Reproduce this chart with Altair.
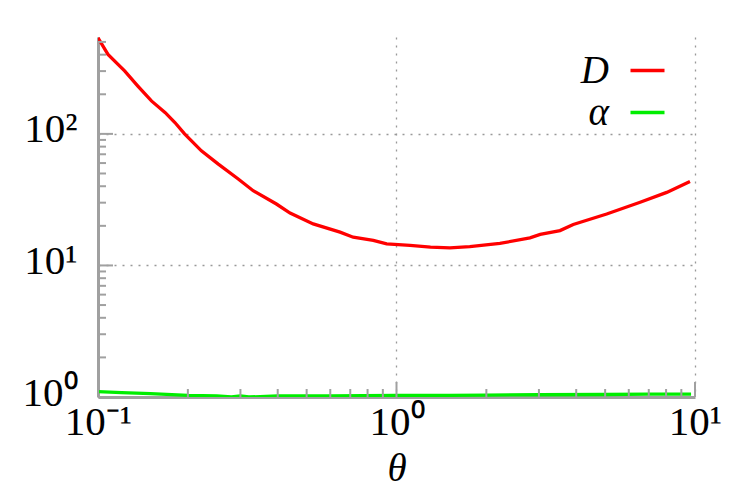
import altair as alt
import pandas as pd

# ---- data ----
theta_D = [0.100, 0.108, 0.123, 0.136, 0.151, 0.168, 0.181, 0.195, 0.222, 0.253,
           0.295, 0.331, 0.396, 0.440, 0.526, 0.647, 0.716, 0.836, 0.927, 1.11,
           1.30, 1.51, 1.76, 2.22, 2.80, 3.03, 3.53, 3.91, 5.06, 6.55, 8.04, 9.62]
D_vals = [537, 402, 300, 231, 178, 145, 122, 100, 74.3, 58.9,
          45.4, 37.0, 29.3, 25.0, 20.7, 17.9, 16.4, 15.5, 14.6, 14.2,
          13.8, 13.6, 13.9, 14.7, 16.2, 17.2, 18.4, 20.5, 24.6, 30.2, 35.9, 43.5]

theta_a = [0.100, 0.12, 0.15, 0.20, 0.25, 0.28, 0.30, 0.32, 0.40, 0.60,
           1.0, 1.5, 2.0, 3.0, 5.0, 7.0, 9.7]
a_vals = [1.10, 1.08, 1.06, 1.03, 1.02, 1.00, 1.02, 1.00, 1.02, 1.02,
          1.03, 1.03, 1.035, 1.04, 1.045, 1.05, 1.05]

series_names = ["D", "α"]
series_colors = ["#ff0000", "#00ee00"]

x_major = [0.1, 1, 10]
y_major = [1, 10, 100]
x_minor = [m * d for d in [0.1, 1] for m in range(2, 10)]
y_minor = [m * d for d in [1, 10] for m in range(2, 10)] + [200, 300, 400, 500]

X_DOMAIN = [0.1, 10]
Y_DOMAIN = [1, 545]

FONT = "Liberation Serif"
AX = "#a0a0a0"
W, H = 597, 360

df = pd.DataFrame(
    {"theta": theta_D + theta_a,
     "value": D_vals + a_vals,
     "series": ["D"] * len(theta_D) + ["α"] * len(theta_a)}
)

xscale = alt.Scale(type="log", domain=X_DOMAIN, nice=False)
yscale = alt.Scale(type="log", domain=Y_DOMAIN, nice=False)

x_lab = "datum.value < 0.5 ? '10⁻¹' : datum.value < 5 ? '10⁰' : '10¹'"
y_lab = "datum.value < 5 ? '10⁰' : datum.value < 50 ? '10¹' : '10²'"

x_axis = alt.Axis(values=x_major, labelExpr=x_lab, ticks=False,
                  grid=True, gridDash=[2, 6], gridColor="#999999", gridWidth=1.3,
                  domainColor=AX, domainWidth=3,
                  labelFont=FONT, labelFontSize=41, labelColor="black",
                  labelPadding=5, labelFlush=False,
                  titleFont=FONT, titleFontStyle="italic", titleFontWeight="normal",
                  titleFontSize=39, titleColor="black", titlePadding=7)
y_axis = alt.Axis(values=y_major, labelExpr=y_lab, ticks=False,
                  grid=True, gridDash=[2, 6], gridColor="#999999", gridWidth=1.3,
                  domainColor=AX, domainWidth=3,
                  labelFont=FONT, labelFontSize=41, labelColor="black",
                  labelPadding=21, labelOffset=-4, labelFlush=False)

lines = alt.Chart(df).mark_line(strokeWidth=3.3, clip=True).encode(
    x=alt.X("theta:Q", scale=xscale, title="θ", axis=x_axis),
    y=alt.Y("value:Q", scale=yscale, title=None, axis=y_axis),
    color=alt.Color("series:N",
                    scale=alt.Scale(domain=series_names, range=series_colors),
                    legend=alt.Legend(title=None, orient="none", legendX=530, legendY=14,
                                      symbolType="stroke", symbolSize=1156,
                                      symbolStrokeWidth=3.5,
                                      labelFont=FONT, labelFontStyle="italic",
                                      labelFontSize=39, labelColor="black",
                                      labelAlign="right", labelOffset=alt.ExprRef(expr="-58"),
                                      labelLimit=0, rowPadding=2)),
)

xmin_df = pd.DataFrame({"theta": x_minor})
xmaj_df = pd.DataFrame({"theta": x_major})
ymin_df = pd.DataFrame({"value": y_minor})
ymaj_df = pd.DataFrame({"value": y_major})

xminor = alt.Chart(xmin_df).mark_rule(color=AX, strokeWidth=2).encode(
    x=alt.X("theta:Q", scale=xscale, title="θ", axis=x_axis),
    y=alt.value(H), y2=alt.value(H - 8))
xmajor = alt.Chart(xmaj_df).mark_rule(color=AX, strokeWidth=2).encode(
    x=alt.X("theta:Q", scale=xscale, title="θ", axis=x_axis),
    y=alt.value(H), y2=alt.value(H - 15))
yminor = alt.Chart(ymin_df).mark_rule(color=AX, strokeWidth=2).encode(
    y=alt.Y("value:Q", scale=yscale, title=None, axis=y_axis),
    x=alt.value(0), x2=alt.value(8))
ymajor = alt.Chart(ymaj_df).mark_rule(color=AX, strokeWidth=2).encode(
    y=alt.Y("value:Q", scale=yscale, title=None, axis=y_axis),
    x=alt.value(0), x2=alt.value(15))

chart = alt.layer(lines, xminor, xmajor, yminor, ymajor).properties(
    width=W, height=H,
    background="white",
    autosize=alt.AutoSizeParams(type="none"),
    padding={"left": 90, "top": 29, "right": 44, "bottom": 93},
).configure_view(strokeWidth=0, stroke="transparent")

chart.save("out.html", embed_options={"renderer": "svg", "actions": False})
